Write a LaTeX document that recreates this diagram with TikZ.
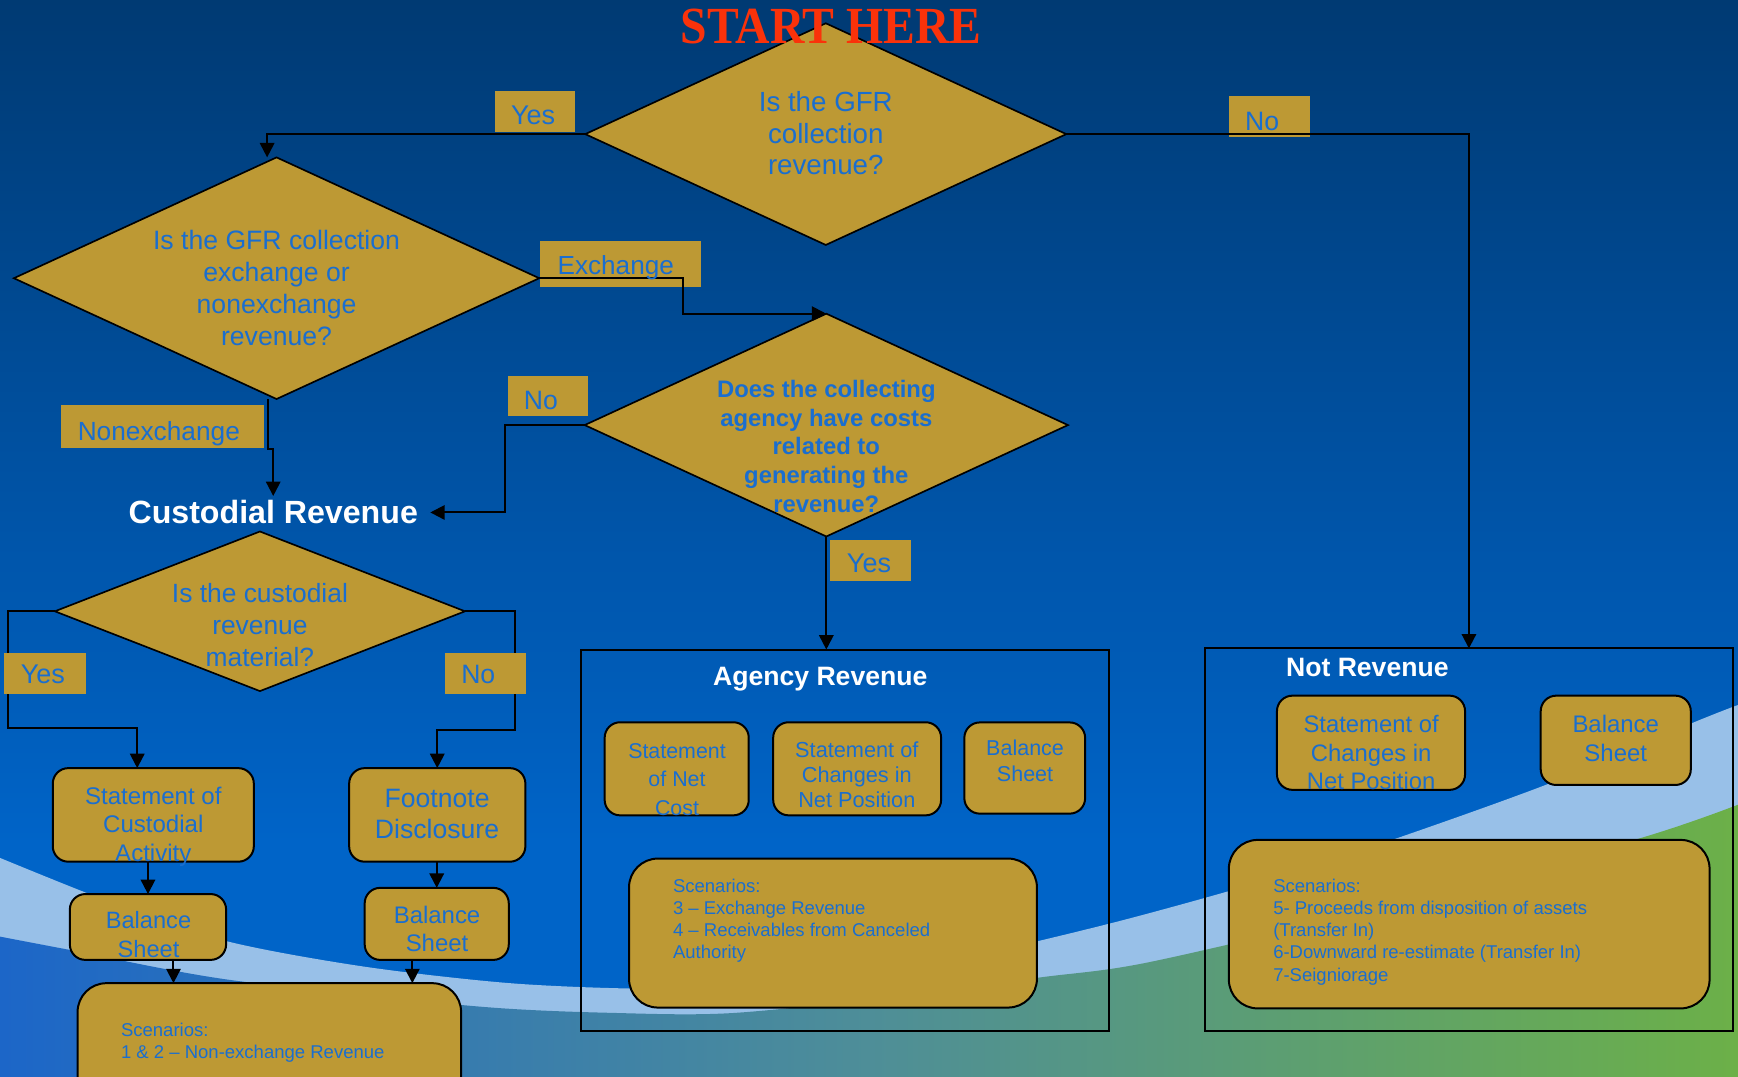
\documentclass[tikz,border=0pt]{standalone}
\usepackage{fontspec}
\setmainfont{Liberation Sans}
\newfontfamily\timesf{Liberation Serif}
\usetikzlibrary{shapes.geometric,arrows.meta}
\definecolor{gold}{RGB}{189,153,52}
\definecolor{txtblue}{RGB}{26,110,207}
\definecolor{bgtop}{RGB}{0,58,115}
\definecolor{bgmid}{RGB}{0,100,200}
\definecolor{bandc}{RGB}{152,192,232}
\definecolor{botl}{RGB}{28,102,200}
\definecolor{botm}{RGB}{78,142,152}
\definecolor{botr}{RGB}{108,176,72}
\definecolor{startred}{RGB}{250,50,10}
\newcommand{\fsz}[2]{\fontsize{#1}{#2}\selectfont}
\newcommand{\ml}[1]{\begin{tabular}[t]{@{}c@{}}#1\end{tabular}}
\newcommand{\mll}[1]{\begin{tabular}[t]{@{}l@{}}#1\end{tabular}}
\begin{document}
\begin{tikzpicture}[x=1pt,y=-1pt,
  shapebox/.style={draw=black, line width=1.8pt, fill=gold, rounded corners=14pt, inner sep=0pt, outer sep=0pt},
  scnbox/.style={shapebox, rounded corners=26pt},
  dia/.style={diamond, draw=black, line width=1.5pt, fill=gold, inner sep=0pt, outer sep=0pt},
  lab/.style={fill=gold, inner sep=0pt, outer sep=0pt},
  cont/.style={draw=black, line width=1.8pt, inner sep=0pt, outer sep=0pt},
  txt/.style={inner sep=0pt, text=txtblue, anchor=base},
  ttl/.style={inner sep=0pt, text=white, anchor=base, font=\bfseries},
  conn/.style={line width=1.8pt, draw=black},
  arr/.style={conn, -{Triangle[length=13pt,width=13pt]}}]
\useasboundingbox (0,0) rectangle (1568,971);
\clip (0,0) rectangle (1568,971);
% ---------- background ----------
\shade[top color=bgtop, bottom color=bgmid] (0,0) rectangle (1568,760);
\fill[bgmid] (0,759) rectangle (1568,975);
\fill[bandc] plot[smooth] coordinates {(0,774) (100,814) (204,849) (328,872) (460,887) (580,892) (700,890) (850,868) (1002,833) (1150,792) (1261,756) (1400,706) (1525,653) (1568,636)} -- (1568,975) -- (0,975) -- cycle;
\shade[left color=botl, right color=botr, middle color=botm] plot[smooth] coordinates {(0,845) (63,857) (207,884) (431,908) (560,914) (660,914) (800,900) (937,882) (1037,868) (1250,818) (1477,757) (1568,726)} -- (1568,975) -- (0,975) -- cycle;
% ---------- containers ----------
\node[cont, minimum width=476.5pt, minimum height=344pt] (ag) at (762.25,758) {};
\node[cont, minimum width=476.5pt, minimum height=345pt] (nr) at (1325.25,757.5) {};
% ---------- label boxes (under connectors) ----------
\node[lab, minimum width=145pt, minimum height=42pt] (lexch) at (559.5,238) {};
\node[lab, minimum width=72.5pt, minimum height=37pt] (lno1) at (1145.25,105.2) {};
\node[lab, minimum width=72pt, minimum height=37pt] (lyes1) at (483,100.5) {};
\node[lab, minimum width=72.5pt, minimum height=36pt] (lno2) at (494.25,357) {};
\node[lab, minimum width=183pt, minimum height=38.2pt] (lnonex) at (146.5,384.9) {};
\node[lab, minimum width=72.6pt, minimum height=37pt] (lyes3) at (785.3,505.5) {};
% ---------- diamonds ----------
\node[dia, minimum width=434pt, minimum height=200pt] (d1) at (745,121) {};
\node[dia, minimum width=474pt, minimum height=218pt] (d2) at (249.5,251) {};
\node[dia, minimum width=436pt, minimum height=201pt] (d3) at (745.5,383.5) {};
\node[dia, minimum width=370pt, minimum height=144pt] (d4) at (234.5,551.5) {};
% ---------- boxes ----------
\node[shapebox, minimum width=181.4pt, minimum height=84.4pt] (sca) at (138.3,735.2) {};
\node[shapebox, minimum width=159pt, minimum height=84.4pt] (fd) at (394.5,735.2) {};
\node[shapebox, minimum width=141pt, minimum height=59.4pt] (bs1) at (133.5,836.3) {};
\node[shapebox, minimum width=130pt, minimum height=65pt] (bs2) at (394,833.5) {};
\node[scnbox, minimum width=346pt, minimum height=113pt] (scn1) at (243,943.5) {};
\node[shapebox, minimum width=130pt, minimum height=84pt] (snc) at (610.5,693.6) {};
\node[shapebox, minimum width=151.5pt, minimum height=84pt] (scnp) at (773.3,693.6) {};
\node[shapebox, minimum width=109pt, minimum height=82.3pt] (bsa) at (924.5,692.9) {};
\node[scnbox, minimum width=368pt, minimum height=134.4pt] (scn2) at (751.5,841.8) {};
\node[shapebox, minimum width=169.7pt, minimum height=85pt] (scnp2) at (1236.9,670.1) {};
\node[shapebox, minimum width=135.4pt, minimum height=80.6pt] (bsn) at (1457.7,667.9) {};
\node[scnbox, minimum width=433.7pt, minimum height=152pt] (scn3) at (1325.5,833.75) {};
% ---------- Custodial Revenue title ----------
\node[ttl, inner xsep=11pt, inner ysep=4pt] (cr) at (246.5,472.7) {\fsz{29}{34}Custodial Revenue};
% ---------- connectors ----------
\coordinate (j1) at (616,283);
\draw[arr] (d1.west) -| ([xshift=-8.5pt]d2.north);
\draw[arr] (d1.east) -| (nr.north);
\draw[arr] (d2.east) -| (j1) -- (d3.north);
\draw[arr] ([xshift=-8pt]d2.south) -- ++(0,45) -| (cr.north);
\draw[arr] (d3.west) -- ++(-71.5,0) |- (cr.east);
\draw[arr] (d3.south) -- (d3.south |- ag.north);
\draw[arr] (d4.west) -| ++(-42,105) -| ([xshift=-14.5pt]sca.north);
\draw[arr] (d4.east) -| ++(45,107.5) -| (fd.north);
\draw[arr] (sca.south -| bs1.north) -- (bs1.north);
\draw[arr] (fd.south -| bs2.north) -- (bs2.north);
\draw[arr] ([xshift=23pt]bs1.south) -- ([xshift=23pt]bs1.south |- scn1.north);
\draw[arr] ([xshift=-22pt]bs2.south) -- ([xshift=-22pt]bs2.south |- scn1.north);
% ---------- label boxes (over connectors) ----------
\node[lab, minimum width=74.1pt, minimum height=37pt] (lyes2) at (40.55,607.5) {};
\node[lab, minimum width=73.1pt, minimum height=37pt] (lno3) at (438,607.5) {};
% ---------- texts ----------
\node[txt, text=startred, xscale=0.915] (tstart) at (750,39) {\timesf\bfseries\fsz{47}{50}START HERE};
\node[txt] (t1) at (745,100.5) {\fsz{25}{28.6}\ml{Is the GFR\\collection\\revenue?}};
\node[txt] (t2) at (249.5,225.4) {\fsz{24}{28.7}\ml{Is the GFR collection\\exchange or\\nonexchange\\revenue?}};
\node[txt] (t3) at (745.5,358.4) {\bfseries\fsz{21.5}{26}\ml{Does the collecting\\agency have costs\\related to\\generating the\\revenue?}};
\node[txt] (t4) at (234.5,543.3) {\fsz{23.8}{28.8}\ml{Is the custodial\\revenue\\material?}};
\node[txt] (tsca) at (138.3,725.6) {\fsz{21.7}{25.7}\ml{Statement of\\Custodial\\Activity}};
\node[txt] (tfd) at (394.3,728.7) {\fsz{24}{28}\ml{Footnote\\Disclosure}};
\node[txt] (tbs1) at (134,838) {\fsz{21.3}{26}\ml{Balance\\Sheet}};
\node[txt] (tbs2) at (394.3,833) {\fsz{21.6}{25.5}\ml{Balance\\Sheet}};
\node[txt, anchor=base west] (tscn1) at (109,934.8) {\fsz{16.7}{19.8}\mll{Scenarios:\\1 \& 2 – Non-exchange Revenue}};
\node[ttl] (tag) at (740,618) {\fsz{24}{28}Agency Revenue};
\node[txt] (tsnc) at (610.8,684.3) {\fsz{19.3}{25.7}\ml{Statement\\of Net\\Cost}};
\node[txt] (tscnp) at (773,683.2) {\fsz{19.6}{22.6}\ml{Statement of\\Changes in\\Net Position}};
\node[txt] (tbsa) at (924.8,681.8) {\fsz{19.4}{23}\ml{Balance\\Sheet}};
\node[txt, anchor=base west] (tscn2) at (607,805.2) {\fsz{16.7}{19.7}\mll{Scenarios:\\3 – Exchange Revenue\\4 – Receivables from Canceled\\Authority}};
\node[ttl] (tnr) at (1233.6,610.2) {\fsz{24}{28}Not Revenue};
\node[txt] (tscnp2) at (1237,660.7) {\fsz{21.5}{26}\ml{Statement of\\Changes in\\Net Position}};
\node[txt] (tbsn) at (1457.7,660.8) {\fsz{21.6}{25.8}\ml{Balance\\Sheet}};
\node[txt, anchor=base west] (tscn3) at (1148.5,804.8) {\fsz{16.7}{20.1}\mll{Scenarios:\\5- Proceeds from disposition of assets\\(Transfer In)\\6-Downward re-estimate (Transfer In)\\7-Seigniorage}};
% label texts
\node[txt] (tyes1) at (481,112.5) {\fsz{24.4}{28}Yes};
\node[txt] (tno1) at (1138.6,118) {\fsz{24}{28}No};
\node[txt] (texch) at (555.5,247.3) {\fsz{23.6}{28}Exchange};
\node[txt] (tno2) at (488,369.4) {\fsz{24}{28}No};
\node[txt] (tnonex) at (143.3,397) {\fsz{23.7}{28}Nonexchange};
\node[txt] (tyes2) at (38.7,616.5) {\fsz{24.4}{28}Yes};
\node[txt] (tno3) at (431.5,616.4) {\fsz{24}{28}No};
\node[txt] (tyes3) at (784,516.5) {\fsz{24.4}{28}Yes};
\end{tikzpicture}
\end{document}
